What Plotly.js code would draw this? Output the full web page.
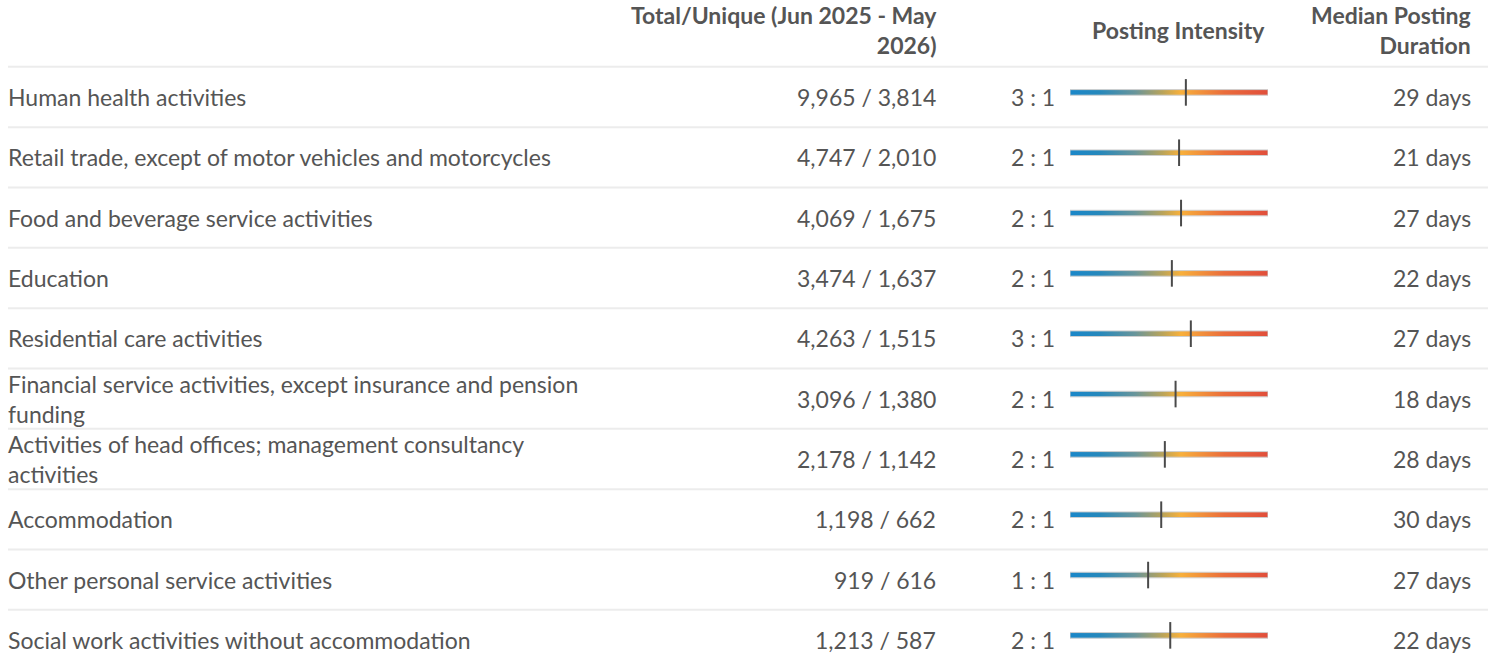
<!DOCTYPE html>
<html>
<head>
<meta charset="utf-8">
<script src="https://cdn.plot.ly/plotly-3.0.1.min.js"></script>
<style>
  html, body { margin: 0; padding: 0; background: #fff; }
  #chart { width: 1497px; height: 666px; }
</style>
</head>
<body>
<div id="chart"></div>
<script>
// ---------- DATA ----------
const categories = [
  "Human health activities",
  "Retail trade, except of motor vehicles and motorcycles",
  "Food and beverage service activities",
  "Education",
  "Residential care activities",
  "Financial service activities, except insurance and pension funding",
  "Activities of head offices; management consultancy activities",
  "Accommodation",
  "Other personal service activities",
  "Social work activities without accommodation"
];
const totalPostings  = [9965, 4747, 4069, 3474, 4263, 3096, 2178, 1198, 919, 1213];
const uniquePostings = [3814, 2010, 1675, 1637, 1515, 1380, 1142, 662, 616, 587];
// posting intensity (total : unique)
const intensityRatio  = [2.61, 2.36, 2.43, 2.12, 2.81, 2.24, 1.91, 1.81, 1.49, 2.07];
const intensityLabels = ["3 : 1", "2 : 1", "2 : 1", "2 : 1", "3 : 1", "2 : 1", "2 : 1", "2 : 1", "1 : 1", "2 : 1"];
const medianDays = [29, 21, 27, 22, 27, 18, 28, 30, 27, 22];
const intensityScale = [0.467, 8.84];   // extent of the intensity scale bar

const headerTotal     = "Total/Unique (Jun 2025 - May<br>2026)";
const headerIntensity = "Posting Intensity";
const headerDuration  = "Median Posting<br>Duration";

// ---------- LAYOUT HELPERS ----------
const W = 1497, H = 666;
const FONT = "Lato, 'Open Sans', sans-serif";
const TEXT = "#555555";
const px = v => v / W;
const nRows = categories.length;
const rowTop = 97, rowStep = 60.33;
const yRange = [(H - rowTop) / rowStep, -rowTop / rowStep];

function wrap(str, maxChars) {
  const words = str.split(" ");
  const lines = []; let cur = "";
  words.forEach(w => {
    if (cur && (cur + " " + w).length > maxChars) { lines.push(cur); cur = w; }
    else cur = cur ? cur + " " + w : w;
  });
  if (cur) lines.push(cur);
  return lines.join("<br>");
}
const fmt = n => n.toLocaleString("en-US");

const rows = categories.map((_, i) => i);
const colorscale = [
  [0.00, "#1a87c9"],
  [0.15, "#2688bb"],
  [0.33, "#69959a"],
  [0.47, "#bba458"],
  [0.56, "#f8b03b"],
  [0.78, "#ea6c3b"],
  [1.00, "#e14e3b"]
];

const traces = [];
const barHalf = 2.8 / rowStep;
const barShift = -4.6 / rowStep;   // bar sits slightly above the row's text centre
rows.forEach(i => {
  const yc = i + barShift;
  traces.push({
    type: "scatter", mode: "lines",
    x: [intensityScale[0], intensityScale[1], intensityScale[1], intensityScale[0], intensityScale[0]],
    y: [yc - barHalf, yc - barHalf, yc + barHalf, yc + barHalf, yc - barHalf],
    fill: "toself",
    fillgradient: { type: "horizontal", colorscale: colorscale },
    line: { color: "#cfcfcf", width: 1 },
    hoverinfo: "skip", showlegend: false
  });
});
traces.push({
  type: "scatter", mode: "markers",
  x: intensityRatio, y: rows.map(i => i + barShift),
  marker: { symbol: "line-ns", size: 19, line: { color: "#4a4a4a", width: 2 } },
  showlegend: false, hoverinfo: "skip"
});

const annotations = [];
const bodyFont = { family: FONT, size: 23, color: TEXT };
rows.forEach(i => {
  annotations.push({ xref: "paper", yref: "y", x: px(6), y: i, xanchor: "left", yanchor: "middle",
    align: "left", text: wrap(categories[i], 60), showarrow: false, font: bodyFont });
  annotations.push({ xref: "paper", yref: "y", x: px(938), y: i, xanchor: "right", yanchor: "middle",
    text: fmt(totalPostings[i]) + " / " + fmt(uniquePostings[i]), showarrow: false, font: bodyFont });
  annotations.push({ xref: "paper", yref: "y", x: px(1057), y: i, xanchor: "right", yanchor: "middle",
    text: intensityLabels[i], showarrow: false, font: bodyFont });
  annotations.push({ xref: "paper", yref: "y", x: px(1473), y: i, xanchor: "right", yanchor: "middle",
    text: medianDays[i] + " days", showarrow: false, font: bodyFont });
});
const headFont = { family: FONT, size: 23, color: TEXT, weight: "bold" };
function header(text, xRight, yCenter) {
  annotations.push({ xref: "paper", yref: "paper", x: px(xRight), y: 1 - yCenter / H,
    xanchor: "right", yanchor: "middle", align: "right", text: text, showarrow: false, font: headFont });
}
header(headerTotal, 939, 30);
header(headerIntensity, 1267, 30);
header(headerDuration, 1473, 30);

const shapes = [];
for (let i = -1; i < nRows; i++) {
  shapes.push({ type: "line", xref: "paper", yref: "y", x0: px(8), x1: px(1488), y0: i + 0.5, y1: i + 0.5,
    line: { color: "#ececec", width: 2 } });
}

const layout = {
  width: W, height: H,
  margin: { l: 0, r: 0, t: 0, b: 0, pad: 0 },
  paper_bgcolor: "#ffffff", plot_bgcolor: "rgba(0,0,0,0)",
  xaxis: { type: "log", domain: [px(1070), px(1268)],
    range: [Math.log10(intensityScale[0]), Math.log10(intensityScale[1])],
    visible: false, fixedrange: true },
  yaxis: { range: yRange, visible: false, fixedrange: true },
  annotations: annotations,
  shapes: shapes,
  showlegend: false,
  hovermode: false
};

Plotly.newPlot("chart", traces, layout, { displayModeBar: false, staticPlot: true });
</script>
</body>
</html>
